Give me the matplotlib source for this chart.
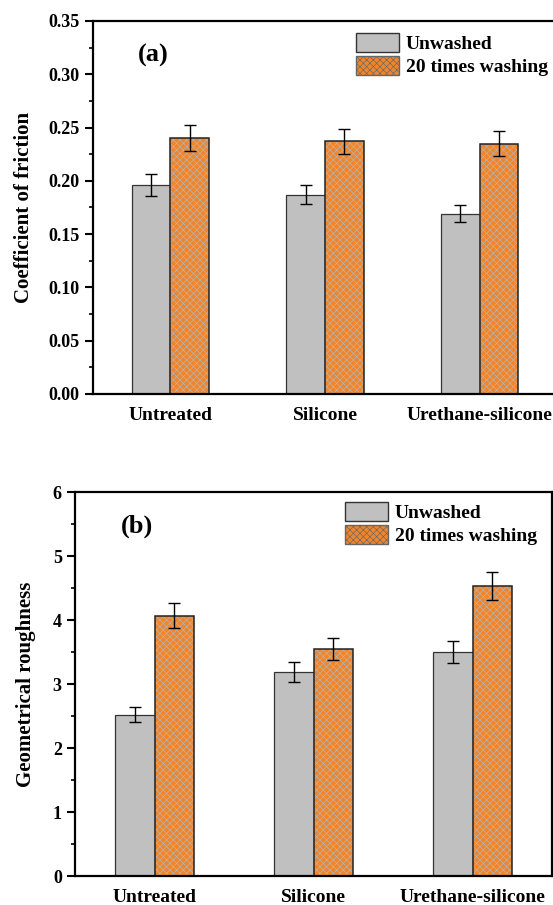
import numpy as np
import matplotlib
matplotlib.use("Agg")
from matplotlib import pyplot as plt
from matplotlib.patches import Patch
from matplotlib.ticker import MultipleLocator

plt.rcParams['font.family'] = ['Liberation Serif', 'DejaVu Serif']
plt.rcParams['font.weight'] = 'bold'
plt.rcParams['hatch.linewidth'] = 0.45

categories = ["Untreated", "Silicone", "Urethane-silicone"]
series = ["Unwashed", "20 times washing"]

# coefficient of friction
cof_unwashed = [0.196, 0.187, 0.169]
cof_unwashed_err = [0.010, 0.009, 0.008]
cof_washed = [0.240, 0.237, 0.235]
cof_washed_err = [0.012, 0.012, 0.012]

# geometrical roughness
gr_unwashed = [2.52, 3.19, 3.50]
gr_unwashed_err = [0.12, 0.16, 0.17]
gr_washed = [4.07, 3.55, 4.53]
gr_washed_err = [0.20, 0.17, 0.22]

gray = '#C0C0C0'
orange = '#F0862C'
W, H = 553, 905


def panel(ax, v1, e1, v2, e2, ylim, major, minor, ylabel, tag, tag_y, leg_xy):
    x = np.arange(len(categories))
    w = 0.25
    ax.bar(x - w / 2, v1, w, color=gray, edgecolor='#333333', linewidth=0.9)
    ax.bar(x + w / 2, v2, w, color=orange, edgecolor='#b5b5b5', linewidth=0, hatch='xxxxx')
    ax.bar(x + w / 2, v2, w, fill=False, edgecolor='#222222', linewidth=1.1)
    ax.errorbar(x - w / 2, v1, yerr=e1, fmt='none', ecolor='black', elinewidth=1, capsize=4, capthick=1)
    ax.errorbar(x + w / 2, v2, yerr=e2, fmt='none', ecolor='black', elinewidth=1, capsize=4, capthick=1)
    ax.set_xlim(-0.5, 2.5)
    ax.set_ylim(*ylim)
    ax.yaxis.set_major_locator(MultipleLocator(major))
    ax.yaxis.set_minor_locator(MultipleLocator(minor))
    ax.set_xticks(x)
    ax.set_xticklabels(categories, fontsize=14, fontweight='bold')
    ax.tick_params(axis='x', length=0, pad=9)
    ax.tick_params(axis='y', which='major', length=6, width=1.5, labelsize=13, direction='out')
    ax.tick_params(axis='y', which='minor', length=3, width=1.2, direction='out')
    for s in ax.spines.values():
        s.set_linewidth(1.6)
    ax.set_ylabel(ylabel, fontsize=15, fontweight='bold')
    ax.text(-0.11, tag_y, tag, fontsize=19, fontweight='bold', ha='center', va='center')
    handles = [Patch(facecolor=gray, edgecolor='#333333', linewidth=1),
               Patch(facecolor=orange, edgecolor='#666666', hatch='xxxxx', linewidth=1)]
    ax.legend(handles, series, loc='upper left', bbox_to_anchor=leg_xy,
              bbox_transform=ax.figure.transFigure, frameon=False, fontsize=14,
              handlelength=2.2, handleheight=1.1, handletextpad=0.35,
              labelspacing=0.15, borderpad=0, borderaxespad=0)


fig = plt.figure(figsize=(W / 100, H / 100), dpi=100)
ax1 = fig.add_axes([93 / W, 1 - 394 / H, (557 - 93) / W, (394 - 21) / H])
ax2 = fig.add_axes([75 / W, 1 - 876 / H, (552 - 75) / W, (876 - 492) / H])

panel(ax1, cof_unwashed, cof_unwashed_err, cof_washed, cof_washed_err,
      (0, 0.35), 0.05, 0.025, 'Coefficient of friction', '(a)', 0.318,
      (356 / W, 1 - 33 / H))
ax1.yaxis.set_major_formatter(matplotlib.ticker.FormatStrFormatter('%.2f'))

panel(ax2, gr_unwashed, gr_unwashed_err, gr_washed, gr_washed_err,
      (0, 6), 1, 0.5, 'Geometrical roughness', '(b)', 5.46,
      (345 / W, 1 - 502 / H))

ax1.yaxis.set_label_coords(-0.128, 0.5)
ax2.yaxis.set_label_coords(-0.082, 0.5)

fig.savefig('out.png', dpi=100)
